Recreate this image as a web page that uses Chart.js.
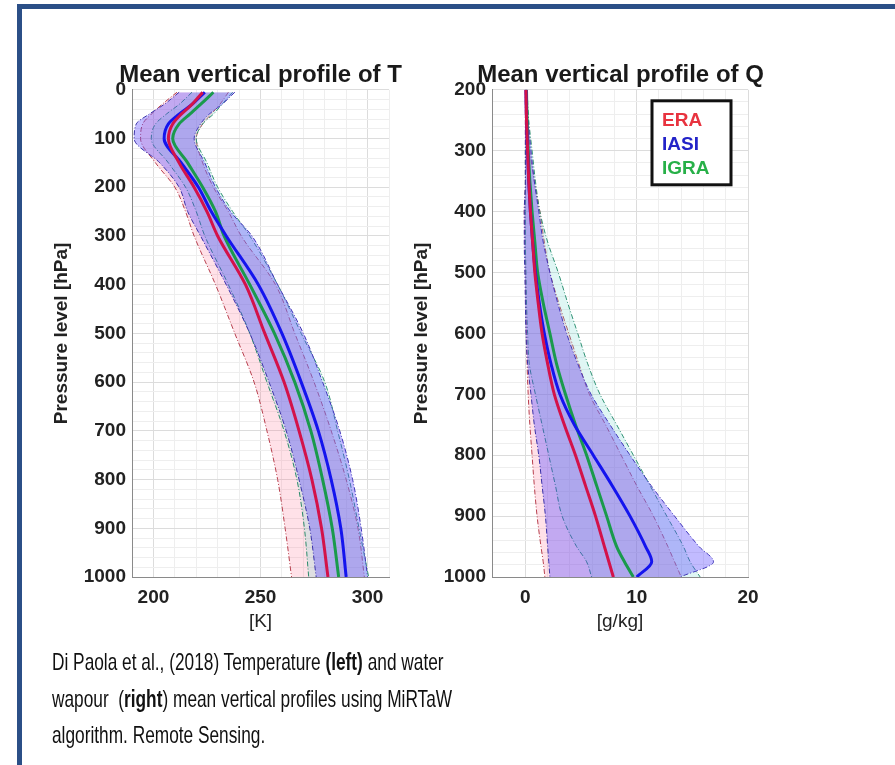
<!DOCTYPE html>
<html lang="en">
<head>
  <meta charset="UTF-8">
  <title>Mean vertical profiles of T and Q</title>
  <style>
    html, body { margin: 0; padding: 0; background: #fff; overflow: hidden; }
    body { width: 895px; height: 765px; position: relative; font-family: "Liberation Sans", Arial, sans-serif; }
    .frame { position: absolute; left: 17px; top: 4px; width: 1000px; height: 1000px; border: 5px solid #2b4f87; box-sizing: border-box; }
    .box { position: absolute; top: 50px; width: 441px; height: 600px; }
    #leftBox { left: 40px; }
    #rightBox { left: 400px; }
    .caption { position: absolute; left: 52px; top: 644px; font-size: 24px; line-height: 36.5px; color: #111;
               white-space: nowrap; transform: scaleX(0.72); transform-origin: 0 0; }
  </style>
  <script src="https://cdn.jsdelivr.net/npm/chart.js"></script>
</head>
<body>
  <div class="frame"></div>
  <div class="box" id="leftBox"><canvas id="tChart" width="441" height="600"></canvas></div>
  <div class="box" id="rightBox"><canvas id="qChart" width="441" height="600"></canvas></div>
  <div class="caption">Di Paola et al., (2018) Temperature <b>(left)</b> and water<br>wapour&nbsp; (<b>right</b>) mean vertical profiles using MiRTaW<br>algorithm. Remote Sensing.</div>

  <script>
    // series names (legend)
    var seriesNames = ["ERA", "IASI", "IGRA"];

    // temperature profile [K] at pressure levels [hPa]
    var tLevels   = [5, 30, 50, 70, 100, 150, 200, 250, 300, 400, 500, 600, 700, 800, 900, 1000];
    var tEraMean  = [223, 218, 213, 209, 207, 212, 219, 225, 230, 243, 252, 261, 268, 274, 278.5, 281.5];
    var tEraLow   = [211, 204, 199, 195, 194, 201, 210, 215, 219, 229, 238, 247, 253, 258, 261.5, 264.5];
    var tEraHigh  = [235, 231, 227, 223, 220, 223, 228, 235, 241, 257, 266, 275, 283, 290, 295.5, 298.5];
    var tIasiMean = [224, 218, 212, 207, 205, 213, 221, 227, 234, 249, 260, 269, 277, 283, 287.5, 290];
    var tIasiLow  = [212, 205, 198, 192, 191, 203, 212, 216, 222, 234, 245, 254, 262, 268, 273, 276];
    var tIasiHigh = [238, 232, 226, 222, 219, 224, 229, 236, 246, 258, 270, 279, 287, 293, 297, 300];
    var tIgraMean = [228, 222, 217, 212, 209, 216, 223, 229, 233, 245, 256.5, 266, 273.5, 279, 283.5, 286.5];
    var tIgraLow  = [218, 212, 206, 201, 199, 207, 215, 220, 224, 235, 245, 253, 261, 267, 270.5, 272.5];
    var tIgraHigh = [237, 232, 228, 223, 220, 225, 230, 237, 245, 258, 269, 280, 286, 291.5, 296, 300.5];

    // water vapour profile [g/kg] at pressure levels [hPa]
    var qLevels   = [200, 250, 300, 350, 400, 450, 500, 550, 600, 650, 700, 750, 800, 850, 900, 950, 975, 1000];
    var qEraMean  = [0.05, 0.1, 0.2, 0.3, 0.45, 0.65, 0.85, 1.15, 1.5, 2.0, 2.6, 3.5, 4.5, 5.4, 6.3, 7.1, 7.5, 7.9];
    var qEraLow   = [0, 0, 0, 0, -0.1, -0.05, 0, 0.05, 0.1, 0.15, 0.25, 0.4, 0.6, 0.8, 1.05, 1.4, 1.6, 1.75];
    var qEraHigh  = [0.1, 0.2, 0.4, 0.8, 1.3, 1.7, 2.2, 3.0, 3.9, 4.8, 5.75, 7.2, 8.6, 10.0, 11.5, 12.8, 13.4, 14.0];
    var qIasiMean = [0.05, 0.1, 0.2, 0.3, 0.45, 0.65, 0.9, 1.25, 1.7, 2.3, 3.1, 4.4, 6.1, 7.8, 9.4, 10.8, 11.35, 10.0];
    var qIasiLow  = [0, 0, 0, 0, -0.1, -0.1, -0.05, 0, 0.05, 0.2, 0.5, 0.8, 1.2, 1.5, 1.8, 2.0, 2.1, 2.2];
    var qIasiHigh = [0.1, 0.25, 0.5, 0.8, 1.2, 1.6, 2.2, 2.9, 3.7, 4.7, 5.9, 7.6, 9.4, 11.3, 13.4, 15.6, 16.9, 13.9];
    var qIgraMean = [0.1, 0.15, 0.25, 0.4, 0.6, 0.85, 1.1, 1.6, 2.2, 2.8, 3.6, 4.5, 5.5, 6.4, 7.3, 8.2, 8.9, 9.7];
    var qIgraLow  = [0.05, 0.05, 0, 0, 0, 0, 0.05, 0.1, 0.2, 0.35, 0.9, 1.5, 2.1, 2.7, 3.3, 4.6, 5.5, 5.95];
    var qIgraHigh = [0.15, 0.3, 0.6, 0.9, 1.3, 2.0, 2.95, 3.8, 4.7, 5.6, 6.7, 8.2, 9.7, 11.2, 12.7, 14.2, 14.8, 15.7];

    // styles per series: mean line, bound lines, band fill, legend text
    var meanColors  = ["#d3124a", "#1414ee", "#1a9a4c"];
    var boundColors = ["#b8404e", "#3a32a8", "#2a8a6a"];
    var fillColors  = ["rgba(255, 120, 150, 0.22)", "rgba(95, 75, 255, 0.38)", "rgba(110, 215, 205, 0.22)"];
    var legendColors = ["#e8333f", "#2323c8", "#27b048"];
    var bandOrder = [3, 1, 2];

    function pts(levels, values) {
      var out = [];
      for (var i = 0; i < levels.length; i++) {
        out.push({ x: values[i], y: levels[i] });
      }
      return out;
    }

    function buildDatasets(levels, groups) {
      var ds = [];
      for (var k = 0; k < groups.length; k++) {
        var g = groups[k];
        ds.push({
          label: seriesNames[k] + " low", data: pts(levels, g.low),
          borderColor: boundColors[k], borderWidth: 1, borderDash: [5, 2, 1, 2],
          backgroundColor: fillColors[k], fill: "+1", order: bandOrder[k]
        });
        ds.push({
          label: seriesNames[k] + " high", data: pts(levels, g.high),
          borderColor: boundColors[k], borderWidth: 1, borderDash: [5, 2, 1, 2],
          fill: false, order: bandOrder[k]
        });
        ds.push({
          label: seriesNames[k], data: pts(levels, g.mean),
          borderColor: meanColors[k], borderWidth: 3, fill: false, order: 0
        });
      }
      return ds;
    }

    // boxed legend in the top right of the plot
    var legendBox = {
      id: "legendBox",
      afterDraw: function (chart, args, opts) {
        if (!opts.show) return;
        var ctx = chart.ctx, area = chart.chartArea;
        var left = area.right - 96, top = area.top + 11, w = 79, h = 84;
        ctx.save();
        ctx.fillStyle = "#fff";
        ctx.fillRect(left, top, w, h);
        ctx.lineWidth = 3;
        ctx.strokeStyle = "#111";
        ctx.strokeRect(left, top, w, h);
        ctx.font = "bold 19px 'Liberation Sans', Arial, sans-serif";
        ctx.textBaseline = "middle";
        for (var i = 0; i < seriesNames.length; i++) {
          ctx.fillStyle = legendColors[i];
          ctx.fillText(seriesNames[i], left + 10, top + 20 + i * 24);
        }
        ctx.restore();
      }
    };

    function makeChart(id, levels, groups, cfg) {
      var ctx = document.getElementById(id).getContext("2d");
      return new Chart(ctx, {
        type: "line",
        data: { datasets: buildDatasets(levels, groups) },
        plugins: [legendBox],
        options: {
          responsive: false,
          animation: false,
          indexAxis: "y",
          elements: { point: { radius: 0 }, line: { cubicInterpolationMode: "monotone" } },
          layout: { padding: 0 },
          plugins: {
            legend: { display: false },
            tooltip: { enabled: false },
            title: {
              display: true, text: cfg.title, color: "#1a1a1a",
              font: { family: "'Liberation Sans', Arial, sans-serif", size: 24, weight: "bold" },
              padding: { top: 11, bottom: 0 }
            },
            legendBox: { show: cfg.legend }
          },
          scales: {
            x: {
              type: "linear", position: "bottom", min: cfg.xMin, max: cfg.xMax,
              afterFit: function (s) { s.height = 73; },
              ticks: {
                stepSize: cfg.xStep, autoSkip: false, maxRotation: 0, padding: 9, color: "#222",
                font: { family: "'Liberation Sans', Arial, sans-serif", size: 19, weight: "bold" },
                callback: function (v) { return v % cfg.xMajor === 0 ? v : ""; }
              },
              grid: {
                drawTicks: false,
                color: function (c) { return c.tick && c.tick.value % cfg.xMajor === 0 ? "#dcdcdc" : "#eeeeee"; }
              },
              border: { color: "#8a8a8a", width: 1 },
              title: {
                display: true, text: cfg.xTitle, color: "#222",
                font: { family: "'Liberation Sans', Arial, sans-serif", size: 19 },
                padding: { top: 0, bottom: 17 }
              }
            },
            y: {
              type: "linear", position: "left", reverse: true, min: cfg.yMin, max: 1000,
              afterFit: function (s) { s.width = 92; },
              ticks: {
                stepSize: 20, autoSkip: false, padding: 6, color: "#222",
                font: { family: "'Liberation Sans', Arial, sans-serif", size: 19, weight: "bold" },
                callback: function (v) { return v % 100 === 0 ? v : ""; }
              },
              grid: {
                drawTicks: false,
                color: function (c) { return c.tick && c.tick.value % 100 === 0 ? "#dcdcdc" : "#eeeeee"; }
              },
              border: { color: "#8a8a8a", width: 1 },
              title: {
                display: true, text: "Pressure level [hPa]", color: "#222",
                font: { family: "'Liberation Sans', Arial, sans-serif", size: 19, weight: "bold" },
                padding: { top: 10, bottom: 0 }
              }
            },
            // empty axis on the right, same width as the left one, so the title centres over the plot
            yPad: {
              type: "linear", position: "right", min: cfg.yMin, max: 1000,
              afterFit: function (s) { s.width = cfg.padRight; },
              ticks: { display: false },
              grid: { display: false },
              border: { display: false }
            }
          }
        }
      });
    }

    makeChart("tChart", tLevels, [
      { mean: tEraMean, low: tEraLow, high: tEraHigh },
      { mean: tIasiMean, low: tIasiLow, high: tIasiHigh },
      { mean: tIgraMean, low: tIgraLow, high: tIgraHigh }
    ], { title: "Mean vertical profile of T", xTitle: "[K]", xMin: 190, xMax: 310, xStep: 10, xMajor: 50, yMin: 0, padRight: 92, legend: false });

    makeChart("qChart", qLevels, [
      { mean: qEraMean, low: qEraLow, high: qEraHigh },
      { mean: qIasiMean, low: qIasiLow, high: qIasiHigh },
      { mean: qIgraMean, low: qIgraLow, high: qIgraHigh }
    ], { title: "Mean vertical profile of Q", xTitle: "[g/kg]", xMin: -3, xMax: 20, xStep: 2, xMajor: 10, yMin: 200, padRight: 93, legend: true });
  </script>
</body>
</html>
